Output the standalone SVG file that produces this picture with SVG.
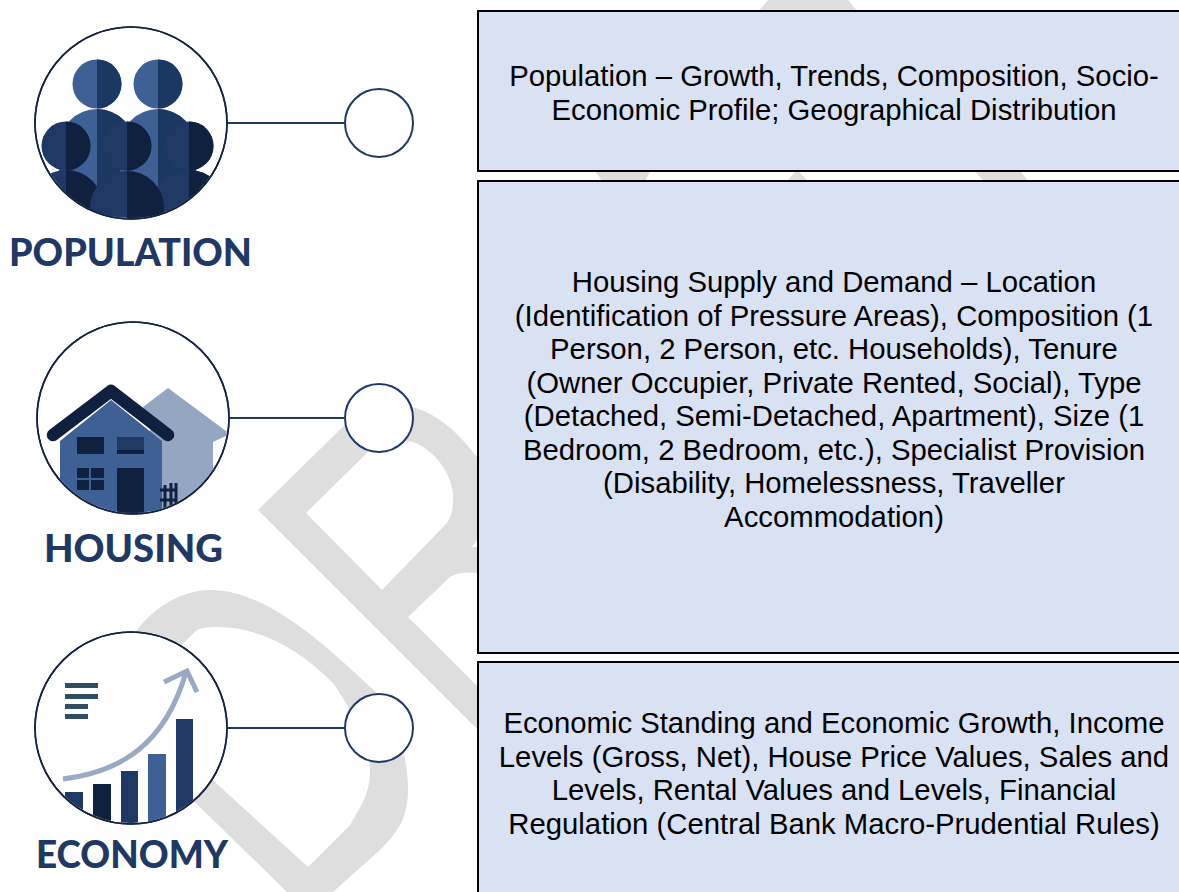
<svg xmlns="http://www.w3.org/2000/svg" width="1179" height="892" viewBox="0 0 1179 892">
<style>
.wm{fill:#dedede}
.box{fill:#d9e2f3;stroke:#000;stroke-width:2}
.t{font-family:"Liberation Sans",Arial,sans-serif;font-size:29.3px;fill:#000;text-anchor:middle}
.lab{font-family:Lato,"Open Sans",sans-serif;font-weight:900;font-size:37px;fill:#1f3864}
.ring{fill:#fff;stroke:#14233f;stroke-width:1.6}
.dot{fill:#fff;stroke:#1f3864;stroke-width:2}
.conn{stroke:#1f3864;stroke-width:2;fill:none}
.a{fill:#3f6095}.b{fill:#1f3864}.c{fill:#10203f}.d{fill:#1b3862}
</style>
<defs>
<clipPath id="c1"><circle cx="131" cy="123" r="95"/></clipPath>
<clipPath id="c2"><circle cx="133" cy="418" r="95"/></clipPath>
<clipPath id="c3"><circle cx="131" cy="728" r="95"/></clipPath>
</defs>
<g id="watermark">
<path class="wm" fill-rule="evenodd" d="M287 892 L90 700 L137 630 C160 600 190 590 210 590 C270 590 330 650 377 693 C400 730 408 760 408 790 C408 820 395 835 380 850 L333 892 Z M308 867 L125 700 L197 630 C205 627 210 627 217 627 C260 627 300 650 333 683 C355 715 370 745 370 770 C370 790 365 800 350 825 Z"/>
<path class="wm" fill-rule="evenodd" d="M258 510 L360 410 C375 405 395 403 413 407 C440 415 460 435 477 457 L480 457 L480 573 L477 573 C468 572 458 572 450 577 L408 617 L480 689 L480 732 Z M306 513 L368 452 C385 440 400 440 413 442 C435 450 453 475 453 497 C453 510 452 515 447 523 L382 590 Z M472 547 L477 540 L477 547 Z"/>
<path class="wm" d="M768 0 L848 0 L858 12 L758 12 Z"/>
<path class="wm" d="M595 171 L650 171 L645 182 L603 182 Z"/>
<path class="wm" d="M796 171 L798 171 L809 182 L786 182 Z"/>
<path class="wm" d="M975 171 L1020 171 L1029 182 L984 182 Z"/>
</g>
<g id="connectors">
<line class="conn" x1="227" y1="123" x2="345" y2="123"/>
<line class="conn" x1="229" y1="418" x2="345" y2="418"/>
<line class="conn" x1="227" y1="728" x2="345" y2="728"/>
</g>
<g id="population">
<circle class="ring" cx="131" cy="123" r="96"/>
<g clip-path="url(#c1)">
<circle class="a" cx="97" cy="84" r="24.5"/><path class="d" d="M97 59.500a24.500 24.500 0 0 1 0 49z"/>
<circle class="a" cx="158" cy="84" r="24.500"/><path class="d" d="M158 59.500a24.500 24.500 0 0 1 0 49z"/>
<circle class="a" cx="97" cy="147" r="38"/><path class="d" d="M97 109a38 38 0 0 1 0 76z"/><rect class="a" x="59" y="147" width="38" height="70"/><rect class="d" x="97" y="147" width="38" height="70"/>
<circle class="a" cx="158" cy="147" r="38"/><path class="d" d="M158 109a38 38 0 0 1 0 76z"/><rect class="a" x="120" y="147" width="38" height="70"/><rect class="d" x="158" y="147" width="38" height="70"/>
<circle class="b" cx="66" cy="146" r="24.500"/><path class="c" d="M66 121.500a24.500 24.500 0 0 1 0 49z"/>
<circle class="b" cx="127" cy="146" r="24.500"/><path class="c" d="M127 121.500a24.500 24.500 0 0 1 0 49z"/>
<circle class="b" cx="189" cy="146" r="24.500"/><path class="c" d="M189 121.500a24.500 24.500 0 0 1 0 49z"/>
<circle class="b" cx="66" cy="207" r="37"/><path class="c" d="M66 170a37 37 0 0 1 0 74z"/>
<circle class="b" cx="189" cy="207" r="37"/><path class="c" d="M189 170a37 37 0 0 1 0 74z"/>
<circle class="b" cx="127" cy="208" r="37"/><path class="c" d="M127 171a37 37 0 0 1 0 74z"/>
</g>
<circle cx="131" cy="123" r="96" fill="none" stroke="#14233f" stroke-width="1.600"/>
<circle class="dot" cx="379" cy="123" r="34"/>
<text class="lab" x="9" y="266" textLength="243" lengthAdjust="spacingAndGlyphs">POPULATION</text>
</g>
<g id="housing">
<circle class="ring" cx="133" cy="418" r="96"/>
<g clip-path="url(#c2)">
<path d="M143 407 L168 388 L230 434 L213 442 V520 H150 V420 Z" fill="#95a6c2"/>
<rect x="213" y="442" width="9" height="30" fill="#fff"/>
<path class="a" d="M60 441 L111 400 L162 441 V520 H60 Z"/>
<path d="M53 435 L111 391 L168 435" fill="none" stroke="#10203f" stroke-width="12.500" stroke-linecap="round" stroke-linejoin="round"/>
<rect class="c" x="77" y="437" width="27" height="17"/>
<rect class="b" x="117" y="437" width="27" height="17"/><rect class="c" x="117" y="450" width="27" height="4"/>
<rect class="c" x="77" y="468" width="27" height="22"/>
<path d="M77 479 H104 M90 468 V490" stroke="#3f6095" stroke-width="2"/>
<rect class="c" x="117" y="468" width="27" height="46"/>
<path d="M160 490 H177 M160 500 H177 M165 485 V510 M171 483 V510 M176 483 V510" stroke="#10203f" stroke-width="3" fill="none"/>
</g>
<circle cx="133" cy="418" r="96" fill="none" stroke="#14233f" stroke-width="1.600"/>
<circle class="dot" cx="379" cy="418" r="34"/>
<text class="lab" x="44" y="562" textLength="179" lengthAdjust="spacingAndGlyphs">HOUSING</text>
</g>
<g id="economy">
<circle class="ring" cx="131" cy="728" r="96"/>
<g clip-path="url(#c3)">
<g fill="#2f4d63"><rect x="65" y="683" width="33" height="5"/><rect x="65" y="694" width="33" height="5"/><rect x="65" y="704" width="23" height="5"/><rect x="65" y="714" width="23" height="5"/></g>
<rect class="b" x="65" y="792" width="18" height="40"/>
<rect class="c" x="93" y="784" width="18" height="50"/>
<rect class="b" x="121" y="771" width="17" height="60"/>
<rect class="a" x="148" y="754" width="18" height="80"/>
<rect class="b" x="176" y="719" width="17" height="110"/>
<path d="M63 779 C120 772 165 745 186 672 M164 682 L187 671 L197 692" fill="none" stroke="#9aaac4" stroke-width="5"/>
</g>
<circle cx="131" cy="728" r="96" fill="none" stroke="#14233f" stroke-width="1.600"/>
<circle class="dot" cx="379" cy="728" r="34"/>
<text class="lab" x="36" y="868" textLength="192" lengthAdjust="spacingAndGlyphs">ECONOMY</text>
</g>
<g id="box1">
<rect class="box" x="478" y="11" width="710" height="160"/>
<text class="t" x="834" y="86">Population – Growth, Trends, Composition, Socio-</text>
<text class="t" x="834" y="120">Economic Profile; Geographical Distribution</text>
</g>
<g id="box2">
<rect class="box" x="478" y="181" width="710" height="472"/>
<text class="t" x="834" y="292">Housing Supply and Demand – Location</text>
<text class="t" x="834" y="326">(Identification of Pressure Areas), Composition (1</text>
<text class="t" x="834" y="359">Person, 2 Person, etc. Households), Tenure</text>
<text class="t" x="834" y="393">(Owner Occupier, Private Rented, Social), Type</text>
<text class="t" x="834" y="426">(Detached, Semi-Detached, Apartment), Size (1</text>
<text class="t" x="834" y="460">Bedroom, 2 Bedroom, etc.), Specialist Provision</text>
<text class="t" x="834" y="493">(Disability, Homelessness, Traveller</text>
<text class="t" x="834" y="527">Accommodation)</text>
</g>
<g id="box3">
<rect class="box" x="478" y="662" width="710" height="240"/>
<text class="t" x="834" y="733">Economic Standing and Economic Growth, Income</text>
<text class="t" x="834" y="767">Levels (Gross, Net), House Price Values, Sales and</text>
<text class="t" x="834" y="800">Levels, Rental Values and Levels, Financial</text>
<text class="t" x="834" y="834">Regulation (Central Bank Macro-Prudential Rules)</text>
</g>
</svg>
